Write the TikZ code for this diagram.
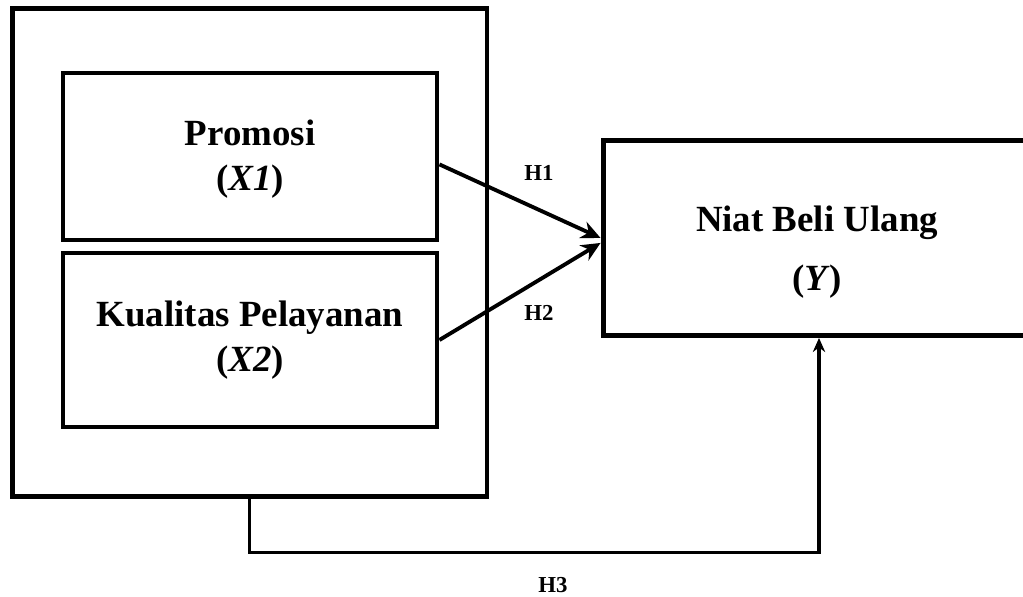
\documentclass[tikz,border=0pt]{standalone}
\usepackage{fontspec}
\setmainfont{Liberation Serif}
\usetikzlibrary{arrows.meta}

\begin{document}
\begin{tikzpicture}[
    x=0.02cm, y=-0.02cm,
    varbox/.style={draw, line width=2.8pt, align=center, font=\fontsize{21}{26}\selectfont\bfseries, inner sep=0pt},
    ylabel/.style={align=center, font=\fontsize{21}{33.5}\selectfont\bfseries},
    hyp/.style={font=\fontsize{13}{15}\selectfont\bfseries},
    path/.style={line width=2.2pt, -{Stealth[length=11pt, width=10pt]}},
]
\useasboundingbox (0,0) rectangle (1023,597);

% Outer group
\node[varbox, minimum width=9.5cm, minimum height=9.78cm] (grp) at (249.5,252.5) {};

% Independent variables
\node[varbox, minimum width=7.48cm, minimum height=3.34cm] (x1) at (250,156.5) {};
\node[varbox, draw=none] (x1text) at (250,159) {Promosi\\(\textit{X1})};
\node[varbox, minimum width=7.48cm, minimum height=3.48cm] (x2) at (250,340) {Kualitas Pelayanan\\(\textit{X2})};

% Dependent variable (runs off the right edge)
\node[varbox, minimum width=8.64cm, minimum height=3.9cm] (y) at (819,238) {};
\node[ylabel] (ytext) at (817,252) {Niat Beli Ulang\\(\textit{Y})};

% Hypotheses
\draw[path] ([yshift=-4.5pt]x1.east) -- (y.west);
\draw[path] (x2.east) -- ([yshift=-2.8pt]y.west);
\draw[line width=1.8pt, -{Stealth[length=8pt, width=7pt]}] (grp.south) -- ++(0,53) -| (y.south);

\node[hyp] (h1) at (539,173) {H1};
\node[hyp] (h2) at (539,313) {H2};
\node[hyp] (h3) at (553,585) {H3};

\end{tikzpicture}
\end{document}
